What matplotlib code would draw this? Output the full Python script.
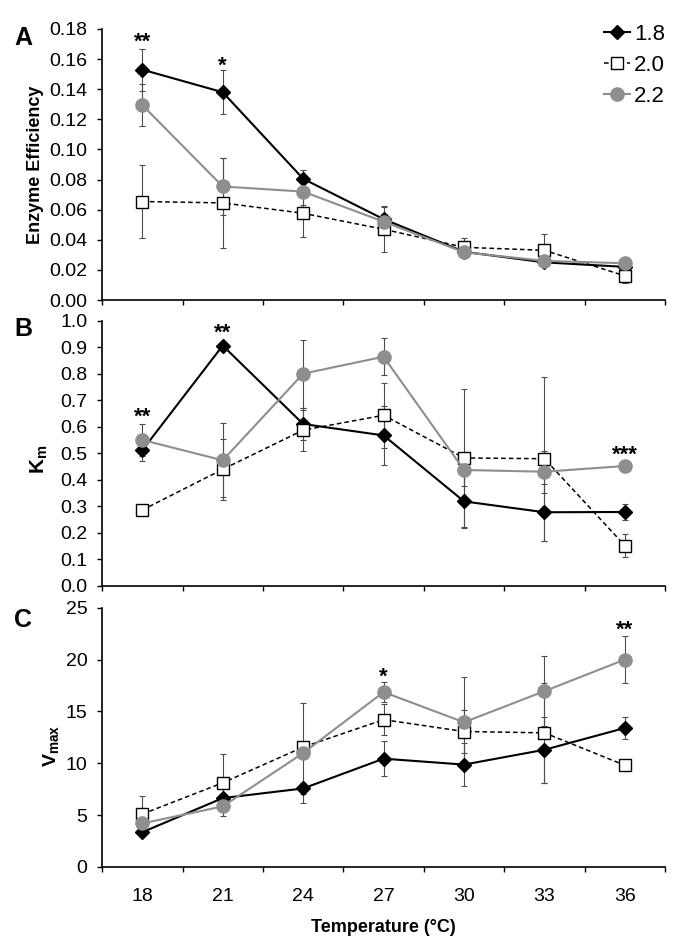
import matplotlib
matplotlib.use('Agg')
import matplotlib.pyplot as plt
import numpy as np

plt.rcParams['font.family'] = ['Liberation Sans', 'DejaVu Sans']
plt.rcParams['mathtext.fontset'] = 'custom'
plt.rcParams['mathtext.rm'] = 'Liberation Sans'
plt.rcParams['mathtext.bf'] = 'Liberation Sans:bold'

temps = ['18', '21', '24', '27', '30', '33', '36']
groups = ['1.8', '2.0', '2.2']

# ---- panel A: enzyme efficiency ----
eff = {
    '1.8': [0.153, 0.138, 0.0805, 0.0537, 0.032, 0.025, 0.022],
    '2.0': [0.0654, 0.0645, 0.0576, 0.047, 0.035, 0.033, 0.016],
    '2.2': [0.1295, 0.0754, 0.072, 0.052, 0.0317, 0.026, 0.0244],
}
eff_err = {
    '1.8': [0.014, 0.0145, 0.006, 0.009, 0.003, 0.003, 0.002],
    '2.0': [0.0245, 0.030, 0.0155, 0.015, 0.006, 0.011, 0.0045],
    '2.2': [0.014, 0.019, 0.009, 0.005, 0.003, 0.003, 0.002],
}

# ---- panel B: Km ----
km = {
    '1.8': [0.511, 0.906, 0.610, 0.567, 0.318, 0.277, 0.278],
    '2.0': [0.2855, 0.439, 0.587, 0.643, 0.482, 0.479, 0.151],
    '2.2': [0.550, 0.473, 0.800, 0.864, 0.4365, 0.430, 0.4516],
}
km_err = {
    '1.8': [0.04, 0.01, 0.06, 0.11, 0.10, 0.107, 0.032],
    '2.0': [0.0, 0.116, 0.077, 0.123, 0.26, 0.31, 0.043],
    '2.2': [0.06, 0.14, 0.128, 0.07, 0.06, 0.08, 0.01],
}

# ---- panel C: Vmax ----
vmax = {
    '1.8': [3.35, 6.64, 7.57, 10.44, 9.87, 11.3, 13.4],
    '2.0': [5.1, 8.11, 11.56, 14.2, 13.06, 12.93, 9.8],
    '2.2': [4.2, 5.84, 10.98, 16.86, 13.95, 16.95, 20.0],
}
vmax_err = {
    '1.8': [0.2, 0.4, 0.5, 1.7, 2.1, 3.2, 1.1],
    '2.0': [1.7, 2.75, 0.5, 1.5, 2.1, 4.8, 0.1],
    '2.2': [0.3, 0.9, 4.8, 1.0, 4.4, 3.4, 2.3],
}

# significance stars (category index, y of glyph centre, text)
stars_a = [(0, 0.176, '**'), (1, 0.160, '*')]
stars_b = [(0, 0.663, '**'), (1, 0.98, '**'), (6, 0.52, '***')]
stars_c = [(3, 19.0, '*'), (6, 23.5, '**')]

styles = {
    '1.8': dict(color='black', ls='-', lw=1.5, marker='D', ms=7,
                mfc='black', mec='black'),
    '2.0': dict(color='black', ls=(0, (3, 2)), lw=1.1, marker='s', ms=8.5,
                mfc='white', mec='black', mew=1.0),
    '2.2': dict(color='#8e8e8e', ls='-', lw=1.5, marker='o', ms=9.5,
                mfc='#8e8e8e', mec='#8e8e8e'),
}

fig = plt.figure(figsize=(6.85, 9.44), dpi=100)
left, width = 0.149, 0.822
ax_a = fig.add_axes([left, 0.6822, width, 0.2871])
ax_b = fig.add_axes([left, 0.3796, width, 0.2807])
ax_c = fig.add_axes([left, 0.0816, width, 0.2747])

x = np.arange(len(temps))


def draw(ax, data, err, stars, ylim, yticks, fmt):
    for g in groups:
        ax.errorbar(x, data[g], yerr=err[g], fmt='none', ecolor='#4d4d4d',
                    elinewidth=0.8, capsize=2.5, capthick=0.8, zorder=2)
        ax.plot(x, data[g], label=g, zorder=3, **styles[g])
    for i, yy, s in stars:
        ax.annotate(s, (x[i], yy), xytext=(0, -5), textcoords='offset points',
                    ha='center', va='center', fontsize=16, fontweight='bold',
                    annotation_clip=False)
    ax.set_xlim(-0.5, len(temps) - 0.5)
    ax.set_ylim(*ylim)
    ax.set_yticks(yticks)
    ax.set_yticklabels([fmt.format(v) for v in yticks])
    ax.set_xticks(np.arange(-0.5, len(temps)))
    ax.set_xticklabels([])
    ax.spines['top'].set_visible(False)
    ax.spines['right'].set_visible(False)
    ax.spines['left'].set_linewidth(1.2)
    ax.spines['bottom'].set_linewidth(1.2)
    ax.tick_params(axis='both', direction='out', length=3.5, width=1.0,
                   labelsize=14, pad=7)


draw(ax_a, eff, eff_err, stars_a, (0, 0.18), np.arange(0, 0.181, 0.02), '{:.2f}')
draw(ax_b, km, km_err, stars_b, (0, 1.0), np.arange(0, 1.01, 0.1), '{:.1f}')
draw(ax_c, vmax, vmax_err, stars_c, (0, 25), np.arange(0, 26, 5), '{:.0f}')

# category labels on the bottom panel, centred between tick marks
ax_c.set_xticks(x, minor=True)
ax_c.set_xticklabels(temps, minor=True)
ax_c.tick_params(axis='x', which='minor', length=0, labelsize=14, pad=15)
ax_c.set_xlabel('Temperature (°C)', fontsize=13, fontweight='bold', labelpad=10)

ax_a.set_ylabel('Enzyme Efficiency', fontsize=13, fontweight='bold')
ax_b.set_ylabel(r'K$_\mathbf{m}$', fontsize=15, fontweight='bold')
ax_c.set_ylabel(r'V$_\mathbf{max}$', fontsize=14, fontweight='bold')
ax_a.yaxis.set_label_coords(-0.104, 0.5)
ax_b.yaxis.set_label_coords(-0.092, 0.478)
ax_c.yaxis.set_label_coords(-0.071, 0.467)

for lab, yc in zip(['A', 'B', 'C'], [0.960, 0.6515, 0.343]):
    fig.text(0.021, yc, lab, fontsize=18, fontweight='bold', va='center')

leg = ax_a.legend(loc='upper right', bbox_to_anchor=(665 / 685, 0.975),
                  bbox_transform=fig.transFigure, frameon=False,
                  fontsize=16, handlelength=1.15, handletextpad=0.2,
                  labelspacing=0.45, borderpad=0, borderaxespad=0)

fig.savefig('out.png', dpi=100)
